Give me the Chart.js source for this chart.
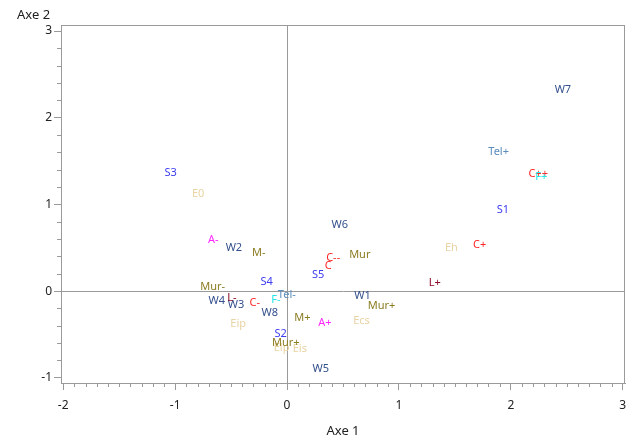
<!DOCTYPE html>
<html>
<head>
<meta charset="utf-8">
<script src="https://cdn.jsdelivr.net/npm/chart.js@4/dist/chart.umd.min.js"></script>
<style>
  html, body { margin: 0; padding: 0; background: #ffffff; }
  #wrap { width: 627px; height: 437px; position: relative; }
</style>
</head>
<body>
<div id="wrap"><canvas id="c"></canvas></div>
<script>
// ---- data ----
const pointLabels = ['E0','Eh','Eip','Ecs','Elp','Eis',
  'S1','S2','S3','S4','S5',
  'W1','W2','W3','W4','W5','W6','W7','W8',
  'M-','M+','Mur','Mur-','Mur+','Mur+',
  'A-','A+','L-','L+','Tel-','Tel+',
  'C++','C+','C--','C','C-','F-','F+'];
const axis1 = [-0.794, 1.469, -0.437, 0.665, -0.049, 0.114,
  1.929, -0.058, -1.040, -0.183, 0.278,
  0.674, -0.475, -0.457, -0.627, 0.302, 0.471, 2.465, -0.154,
  -0.252, 0.138, 0.650, -0.665, 0.844, -0.011,
  -0.660, 0.338, -0.493, 1.320, -0.002, 1.891,
  2.244, 1.721, 0.412, 0.367, -0.288, -0.100, 2.272];
const axis2 = [1.125, 0.502, -0.383, -0.345, -0.652, -0.663,
  0.932, -0.498, 1.367, 0.105, 0.182,
  -0.060, 0.502, -0.156, -0.114, -0.902, 0.759, 2.324, -0.248,
  0.439, -0.310, 0.413, 0.047, -0.172, -0.594,
  0.597, -0.363, -0.083, 0.098, -0.040, 1.604,
  1.355, 0.536, 0.386, 0.290, -0.137, -0.106, 1.316];
const groups = ['E','E','E','E','E','E',
  'S','S','S','S','S',
  'W','W','W','W','W','W','W','W',
  'M','M','M','M','M','M',
  'A','A','L','L','T','T',
  'C','C','C','C','C','F','F'];
const groupColors = {E:'#e8d3a2', S:'#3c3cf0', W:'#33508c', M:'#8c7c22',
  A:'#ff28ff', L:'#8c0a28', T:'#5a8cbc', C:'#ff2828', F:'#28e6e6'};
const xTicks = [-2, -1, 0, 1, 2, 3];
const yTicks = [-1, 0, 1, 2, 3];
const xTitle = 'Axe 1';
const yTitle = 'Axe 2';

// one dataset per point so the drawing order follows the arrays
const datasets = pointLabels.map((lab, i) => ({
  label: lab,
  data: [{x: axis1[i], y: axis2[i]}],
  pointRadius: 0,
  pointHoverRadius: 0,
  color: groupColors[groups[i]]
}));

const AX = '#9a9a9a';

const textPlugin = {
  id: 'textPoints',
  afterDatasetsDraw(chart) {
    const ctx = chart.ctx;
    ctx.save();
    ctx.font = '11px "Noto Sans"';
    ctx.textAlign = 'center';
    ctx.textBaseline = 'middle';
    chart.data.datasets.forEach((ds, di) => {
      const meta = chart.getDatasetMeta(di);
      meta.data.forEach(el => {
        ctx.fillStyle = ds.color;
        ctx.fillText(ds.label, el.x, el.y);
      });
    });
    ctx.restore();
  }
};

const framePlugin = {
  id: 'frame',
  afterDraw(chart) {
    const ctx = chart.ctx;
    const a = chart.chartArea;
    const xs = chart.scales.x, ys = chart.scales.y;
    ctx.save();
    ctx.strokeStyle = AX;
    ctx.lineWidth = 1;
    ctx.strokeRect(Math.round(a.left) + 0.5, Math.round(a.top) + 0.5,
      Math.round(a.right - a.left) - 1, Math.round(a.bottom - a.top));
    // minor ticks
    ctx.beginPath();
    for (let k = -20; k <= 30; k++) {
      if (k % 10 === 0) continue;
      const px = Math.round(xs.getPixelForValue(k / 10)) + 0.5;
      ctx.moveTo(px, a.bottom); ctx.lineTo(px, a.bottom + 4);
    }
    for (let k = -5; k <= 15; k++) {
      if (k % 5 === 0) continue;
      const py = Math.round(ys.getPixelForValue(k / 5)) + 0.5;
      ctx.moveTo(a.left, py); ctx.lineTo(a.left - 4, py);
    }
    ctx.stroke();
    // axis titles
    ctx.fillStyle = '#222';
    ctx.font = '13px "Noto Sans"';
    ctx.textBaseline = 'middle';
    ctx.textAlign = 'left';
    ctx.fillText(yTitle, 17, 15);
    ctx.textAlign = 'center';
    ctx.fillText(xTitle, (a.left + a.right) / 2, 431);
    ctx.restore();
  }
};

new Chart(document.getElementById('c'), {
  type: 'scatter',
  data: { datasets },
  plugins: [textPlugin, framePlugin],
  options: {
    responsive: true,
    maintainAspectRatio: false,
    animation: false,
    events: [],
    layout: { padding: { top: 25, right: 2, left: 0, bottom: 0 } },
    plugins: { legend: { display: false }, tooltip: { enabled: false } },
    scales: {
      x: {
        type: 'linear',
        min: -2.02, max: 3.02,
        afterBuildTicks(s) { s.ticks = xTicks.map(v => ({ value: v })); },
        afterFit(s) { s.height = 54; s.paddingRight = 0; s.paddingLeft = 0; },
        border: { display: true, color: AX },
        grid: {
          drawOnChartArea: true,
          color: c => (c.tick && c.tick.value === 0) ? AX : 'rgba(0,0,0,0)',
          tickColor: AX, tickLength: 7
        },
        ticks: { color: '#222', font: { size: 12, family: '"Noto Sans"' }, padding: 8, maxRotation: 0,
          callback: v => String(v) },
        title: { display: false }
      },
      y: {
        type: 'linear',
        min: -1.06, max: 3.07,
        afterBuildTicks(s) { s.ticks = yTicks.map(v => ({ value: v })); },
        afterFit(s) { s.width = 61; s.paddingTop = 0; s.paddingBottom = 0; },
        border: { display: true, color: AX },
        grid: {
          drawOnChartArea: true,
          color: c => (c.tick && c.tick.value === 0) ? AX : 'rgba(0,0,0,0)',
          tickColor: AX, tickLength: 7
        },
        ticks: { color: '#222', font: { size: 12, family: '"Noto Sans"' }, padding: 2,
          callback: v => String(v) }
      }
    }
  }
});
</script>
</body>
</html>
